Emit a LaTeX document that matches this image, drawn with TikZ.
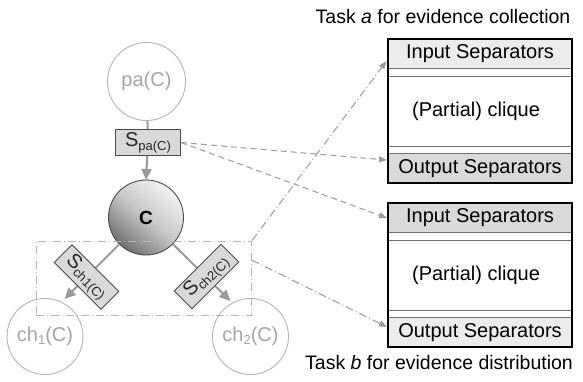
\documentclass[tikz,border=0pt]{standalone}
\usepackage{fontspec}
\setmainfont{Liberation Sans}
\usetikzlibrary{arrows.meta,calc}
\definecolor{edgeG}{HTML}{9A9A9A}
\definecolor{faintG}{HTML}{B4B4B4}
\definecolor{faintTxt}{HTML}{A4A4A4}
\definecolor{sepFill}{HTML}{D9D9D9}
\definecolor{bandDark}{HTML}{D9D9D9}
\definecolor{bandLight}{HTML}{ECECEC}
\definecolor{boxEdge}{HTML}{4A4A4A}
\definecolor{sepLine}{HTML}{707070}
\definecolor{ballLight}{HTML}{F4F4F4}
\definecolor{ballMid}{HTML}{C6C6C6}
\definecolor{ballDark}{HTML}{6E6E6E}
% gradient for the clique ball: dark below, light above
\pgfdeclareverticalshading{cball}{100bp}{color(0bp)=(ballDark); color(24bp)=(ballDark);
  color(50bp)=(ballMid); color(76bp)=(ballLight); color(100bp)=(ballLight)}
\newcommand\fsz[1]{\fontsize{#1}{#1}\selectfont}
% a separator label: large S with a smaller lowered index
\newcommand\seplabel[1]{\fsz{20}S{\fsz{13}\raisebox{-4pt}{#1}}}
% one task block: #1 top edge, #2 name, #3 input band fill, #4 output band fill
\newcommand\taskbox[4]{%
  \node[band,fill=#3,minimum height=29pt] (#2In) at (480,{#1+14.5}) {Input Separators};
  \node[band,minimum height=69.5pt] (#2Mid) at (480,{#1+72.25}) {};
  \node[inner sep=0pt,font=\fsz{20}] (#2Txt) at (476,{#1+72.5}) {(Partial) clique};
  \node[band,fill=#4,minimum height=29.5pt] (#2Out) at (480,{#1+129.25}) {Output Separators};
  \draw[sepline] (388,{#1+29}) -- (572,{#1+29});
  \draw[sepline] (388,{#1+37.5}) -- (572,{#1+37.5});
  \draw[sepline] (388,{#1+107}) -- (572,{#1+107});
  \draw[sepline] (388,{#1+114.5}) -- (572,{#1+114.5});
  \node[frame] (#2) at (480,{#1+72}) {};
}
\tikzset{
  faintnode/.style={circle,draw=faintG,line width=0.9pt,minimum size=#1,inner sep=0pt,
    text=faintTxt,font=\fsz{20}},
  sepbox/.style={rectangle,draw=boxEdge,line width=0.9pt,fill=sepFill,
    minimum width=65pt,minimum height=26pt,inner sep=0pt,text=black!85},
  mainline/.style={draw=edgeG,line width=2pt},
  mainarrow/.style={mainline,-{Triangle[length=11pt,width=10pt]},color=edgeG},
  dasharrow/.style={draw=faintG,line width=1pt,dash pattern=on 6pt off 4pt,
    -{Triangle[length=8pt,width=6pt]},color=edgeG},
  dotarrow/.style={draw=faintG,line width=1pt,dash pattern=on 8pt off 3pt on 1pt off 3pt,
    -{Triangle[length=8pt,width=6pt]},color=edgeG},
  band/.style={rectangle,minimum width=184pt,inner sep=0pt,font=\fsz{20}},
  sepline/.style={draw=sepLine,line width=1.1pt},
  frame/.style={rectangle,draw=black,line width=2pt,minimum width=184pt,minimum height=144pt,inner sep=0pt},
  title/.style={inner sep=0pt,font=\fsz{19.5}}
}
\begin{document}
\begin{tikzpicture}[x=1pt,y=-1pt]
\useasboundingbox (0,0) rectangle (583,381);

% parent, separator and clique
\node[faintnode=78pt] (pa) at (146.5,81.5) {pa(C)};
\node[sepbox] (spa) at (148,142.5) {\seplabel{pa(C)}};
\draw[mainline] (pa) -- (spa);
\draw[mainarrow] (spa) -- (146,180);

\node[circle,draw=boxEdge,line width=0.9pt,minimum size=75pt,inner sep=0pt,
  shading=cball,shading angle=-40,
  font=\fsz{19}\bfseries] (C) at (146,217.5) {C};

% children
\node[faintnode=76pt] (ch1) at (45,336.5) {ch{\fsz{13}\raisebox{-3pt}{1}}(C)};
\node[faintnode=76pt] (ch2) at (250.5,336.5) {ch{\fsz{13}\raisebox{-3pt}{2}}(C)};
\coordinate (ch1tip) at (64.5,299);
\coordinate (ch2tip) at (230.5,301);
\draw[mainarrow] (C) -- (ch1tip);
\draw[mainarrow] (C) -- (ch2tip);
\node[sepbox,minimum width=66pt,minimum height=25pt,rotate=-45] (sch1) at (86.5,277) {\seplabel{ch1(C)}};
\node[sepbox,minimum width=66pt,minimum height=25pt,rotate=45] (sch2) at (206.5,276.5) {\seplabel{ch2(C)}};

% group of child separators
\node[rectangle,draw=faintG,line width=1pt,dash pattern=on 8pt off 3pt on 1pt off 3pt,
  minimum width=215.5pt,minimum height=74pt,inner sep=0pt] (grp) at (143.8,278) {};
\coordinate (grpE) at (251.6,260);

% task blocks
\taskbox{39.3}{taskA}{bandLight}{bandDark}
\taskbox{203.3}{taskB}{bandDark}{bandLight}
\node[title] (titleA) at (443,17) {Task \textit{a} for evidence collection};
\node[title] (titleB) at (439,363) {Task \textit{b} for evidence distribution};

% links from the separators to the task blocks
\coordinate (aInTip) at (386.5,61);
\coordinate (aOutTip) at (387,160);
\coordinate (bInTip) at (387,218);
\coordinate (bOutTip) at (387,327);
\draw[dasharrow] (spa.east) -- (aOutTip);
\draw[dasharrow] (spa.east) -- (bInTip);
\draw[dotarrow] (grp.north east) -- (aInTip);
\draw[dotarrow] (grpE) -- (bOutTip);
\end{tikzpicture}
\end{document}
